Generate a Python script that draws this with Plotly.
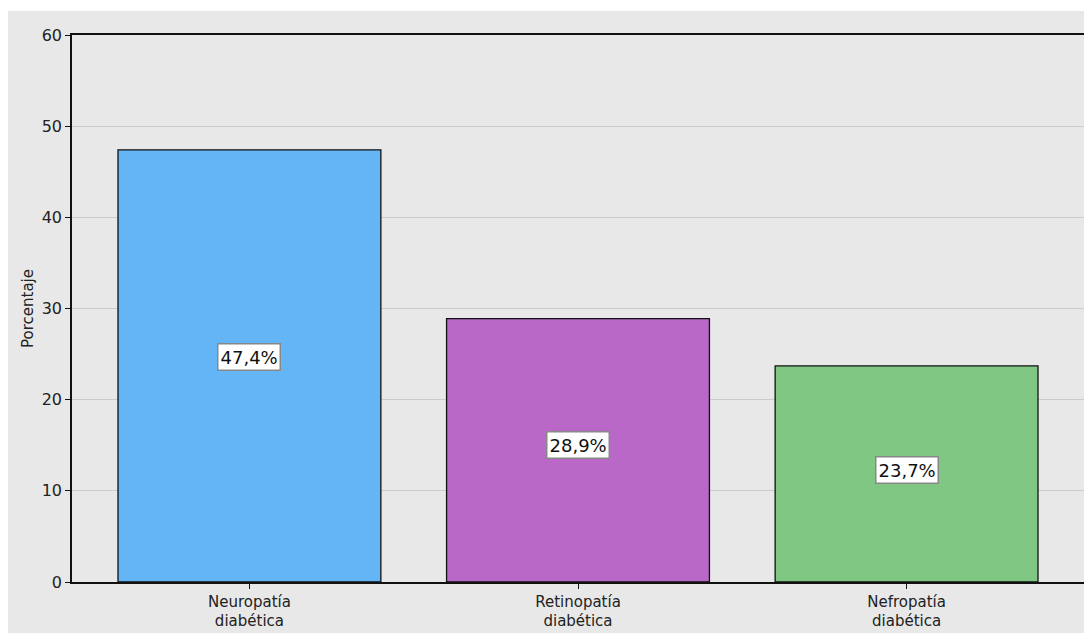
import plotly.graph_objects as go

categories = ["Neuropatía<br>diabética", "Retinopatía<br>diabética", "Nefropatía<br>diabética"]
values = [47.4, 28.9, 23.7]
value_labels = ["47,4%", "28,9%", "23,7%"]
colors = ["#64B5F6", "#BA68C8", "#81C784"]
y_ticks = [0, 10, 20, 30, 40, 50, 60]

W, H = 1084, 633
ml, mr, mt, mb = 72, 0, 35, 51
pw, ph = W - ml - mr, H - mt - mb

fig = go.Figure()
fig.add_trace(go.Bar(
    x=list(range(len(categories))), y=values,
    marker=dict(color=colors, line=dict(color="#111111", width=1.3)),
    width=0.8, hoverinfo="skip",
))

for i, (v, lab) in enumerate(zip(values, value_labels)):
    fig.add_annotation(
        x=i, y=v * 0.52, text=lab, showarrow=False,
        font=dict(family="DejaVu Sans", size=18, color="#111111"),
        bgcolor="white", bordercolor="#888888", borderwidth=1.5, borderpad=2,
    )

bg = "#e8e8e8"
fig.add_shape(type="rect", xref="paper", yref="paper",
              x0=(8 - ml) / pw, x1=1.05, y0=-0.2, y1=(H - mb - 11) / ph,
              fillcolor=bg, line=dict(width=0), layer="below")

fig.update_layout(
    width=W, height=H,
    margin=dict(l=ml, r=mr, t=mt, b=mb, pad=0),
    paper_bgcolor="white", plot_bgcolor=bg,
    showlegend=False, bargap=0.2,
    font=dict(family="DejaVu Sans", color="#222222"),
    xaxis=dict(
        range=[-0.54, 2.54],
        tickmode="array", tickvals=list(range(len(categories))), ticktext=categories,
        showgrid=False, zeroline=False,
        showline=True, linecolor="#111111", linewidth=1.5, mirror=True,
        ticks="outside", ticklen=5, tickcolor="#111111",
        tickfont=dict(size=15, color="#222222"),
    ),
    yaxis=dict(
        range=[0, 60], tickmode="array", tickvals=y_ticks,
        showgrid=True, gridcolor="#cccccc", gridwidth=1, zeroline=False,
        showline=True, linecolor="#111111", linewidth=1.5,
        ticks="outside", ticklen=5, tickcolor="#111111",
        tickfont=dict(size=16, color="#222222"),
        title=dict(text="Porcentaje", font=dict(size=15, color="#222222"), standoff=4),
    ),
)

fig.write_html("out.html")
